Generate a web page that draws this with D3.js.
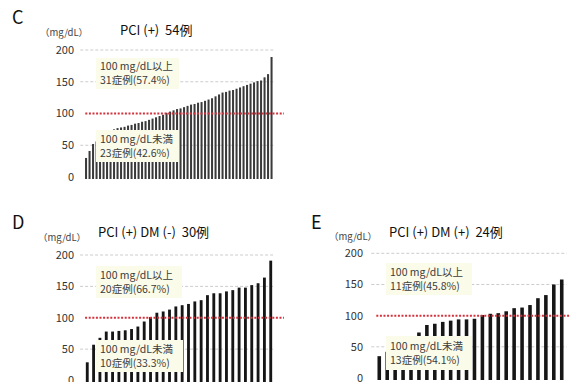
<!DOCTYPE html>
<html>
<head>
<meta charset="utf-8">
<script src="https://cdn.jsdelivr.net/npm/d3@7"></script>
<style>
  body { margin: 0; background: #fff; }
  svg { display: block; }
  text { font-family: "Noto Sans CJK JP", "Noto Sans", sans-serif; }
</style>
</head>
<body>
<div id="chart"></div>
<script>
// sorted LDL values per group (mg/dL)
const valuesC = [30, 41, 52, 56, 60, 64, 68, 72, 75, 77, 78, 79, 81, 82, 84, 85, 87, 88, 90, 92, 94, 96, 98,
  101, 103, 105, 107, 108, 110, 112, 114, 115, 117, 118, 120, 122, 124, 127, 130, 133, 134, 136, 137, 139,
  141, 143, 145, 147, 149, 151, 152, 157, 162, 189];
const valuesD = [29, 57, 68, 78, 78, 79, 80, 82, 86, 94, 101, 108, 110, 113, 118, 120, 122, 126, 128, 136,
  139, 139, 142, 144, 148, 148, 152, 155, 164, 191];
const valuesE = [35, 42, 50, 58, 65, 73, 85, 87, 90, 92, 94, 94, 95, 101, 103, 104, 107, 112, 113, 117,
  128, 133, 150, 158];

const yTicks = [0, 50, 100, 150, 200];
const threshold = 100;
const panelLetters = ['C', 'D', 'E'];
const panelTitles = ['PCI (+)\u00a0\u00a054例', 'PCI (+) DM (-)\u00a0\u00a030例', 'PCI (+) DM (+)\u00a0\u00a024例'];
const aboveLabels = ['31症例(57.4%)', '20症例(66.7%)', '11症例(45.8%)'];
const belowLabels = ['23症例(42.6%)', '10症例(33.3%)', '13症例(54.1%)'];
const unitLabel = '（mg/dL）';

const width = 570, height = 382;
const svg = d3.select('#chart').append('svg')
  .attr('width', width)
  .attr('height', height);

// layout for each panel
const panels = [
  { values: valuesC, x0: 84.3, x1: 273.3, yTop: 50, yZero: 177, pad: 0.42, barColor: '#3a3a3a',
    letter: [12, 24], title: [120, 35], unit: [40, 36], tickX: 74,
    boxUp: [96, 58, 83, 31], boxDown: [96, 130, 83, 32], redEnd: 284 },
  { values: valuesD, x0: 84.1, x1: 273.9, yTop: 255, yZero: 380.5, pad: 0.55, barColor: '#161616',
    letter: [12, 229], title: [98, 237], unit: [38, 241], tickX: 74,
    boxUp: [96, 266, 86, 32], boxDown: [96, 340, 87, 32], redEnd: 284 },
  { values: valuesE, x0: 375.3, x1: 565.7, yTop: 253.3, yZero: 378, pad: 0.55, barColor: '#161616',
    letter: [311, 229], title: [389, 237], unit: [329, 240], tickX: 363,
    boxUp: [386, 263, 86, 32], boxDown: [386, 336, 86, 34], redEnd: 570 }
];

panels.forEach((p, i) => {
  const g = svg.append('g');

  const x = d3.scaleBand()
    .domain(d3.range(p.values.length))
    .range([p.x0, p.x1])
    .paddingInner(p.pad)
    .paddingOuter(p.pad / 2);
  const y = d3.scaleLinear().domain([0, 200]).range([p.yZero, p.yTop]);

  // light dotted gridlines
  g.selectAll('.grid')
    .data(yTicks.filter(d => d > 0 && d !== threshold))
    .enter().append('line')
    .attr('x1', p.x0 - 4).attr('x2', p.x1 + 1)
    .attr('y1', d => y(d)).attr('y2', d => y(d))
    .attr('stroke', '#cccccc')
    .attr('stroke-width', 1)
    .attr('stroke-dasharray', '3,2');

  // y tick labels
  g.selectAll('.tick')
    .data(yTicks)
    .enter().append('text')
    .attr('x', p.tickX)
    .attr('y', d => y(d))
    .attr('dy', '0.35em')
    .attr('text-anchor', 'end')
    .attr('font-size', 11)
    .attr('fill', '#333')
    .text(d => d);

  // bars
  g.selectAll('.bar')
    .data(p.values)
    .enter().append('rect')
    .attr('x', (d, j) => x(j))
    .attr('width', x.bandwidth())
    .attr('y', d => y(d))
    .attr('height', d => y(0) - y(d) + 2)
    .attr('fill', p.barColor);

  // red threshold line
  g.append('line')
    .attr('x1', p.x0 + 1).attr('x2', p.redEnd)
    .attr('y1', y(threshold)).attr('y2', y(threshold))
    .attr('stroke', '#d2323c')
    .attr('stroke-width', 2)
    .attr('stroke-dasharray', '2,1.6');

  // annotation boxes
  const boxes = [
    { r: p.boxUp, lines: ['100 mg/dL以上', aboveLabels[i]] },
    { r: p.boxDown, lines: ['100 mg/dL未満', belowLabels[i]] }
  ];
  boxes.forEach(b => {
    g.append('rect')
      .attr('x', b.r[0]).attr('y', b.r[1])
      .attr('width', b.r[2]).attr('height', b.r[3])
      .attr('fill', '#fbfbe9');
    g.selectAll(null)
      .data(b.lines)
      .enter().append('text')
      .attr('x', b.r[0] + 4)
      .attr('y', (d, k) => b.r[1] + b.r[3] / 2 + (k - 0.5) * 14)
      .attr('dy', '0.36em')
      .attr('font-size', 10.5)
      .attr('fill', '#3c3c3c')
      .text(d => d);
  });

  // panel letter, unit and title
  g.append('text')
    .attr('x', p.letter[0]).attr('y', p.letter[1])
    .attr('font-size', 18)
    .attr('fill', '#111')
    .text(panelLetters[i]);
  g.append('text')
    .attr('x', p.unit[0]).attr('y', p.unit[1])
    .attr('font-size', 9.5)
    .attr('fill', '#444')
    .text(unitLabel);
  g.append('text')
    .attr('x', p.title[0]).attr('y', p.title[1])
    .attr('font-size', 13)
    .attr('fill', '#111')
    .text(panelTitles[i]);
});
</script>
</body>
</html>
